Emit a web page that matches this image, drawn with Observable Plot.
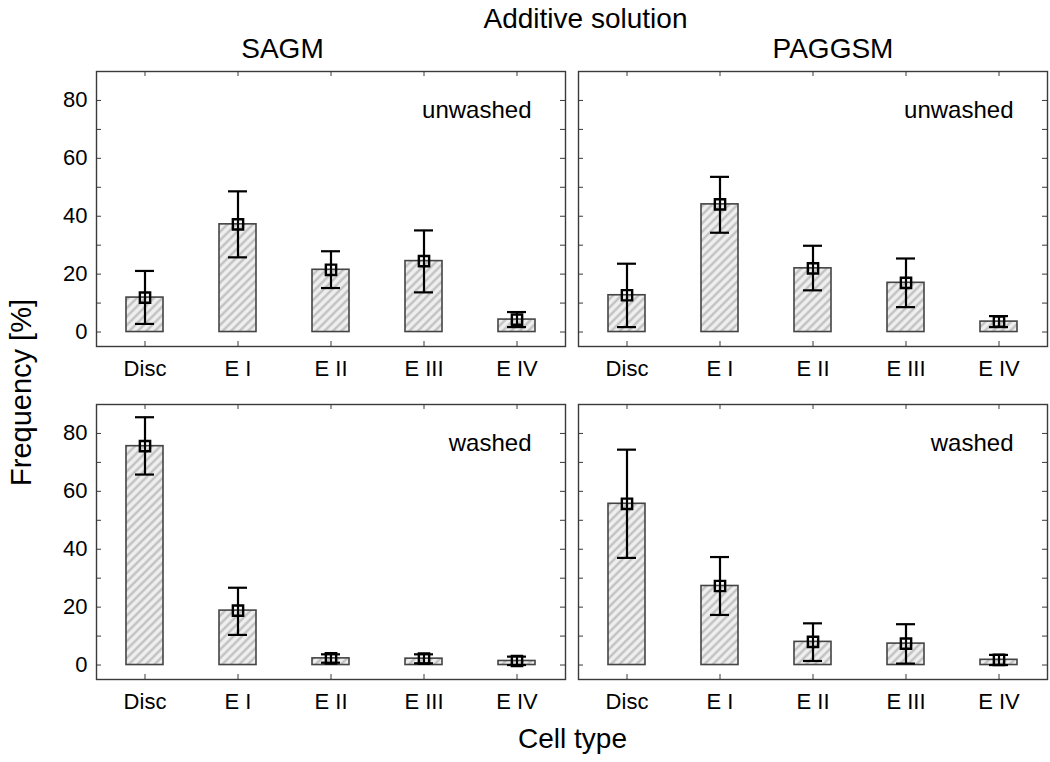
<!DOCTYPE html>
<html>
<head>
<meta charset="utf-8">
<script src="https://cdn.jsdelivr.net/npm/d3@7"></script>
<script src="https://cdn.jsdelivr.net/npm/@observablehq/plot@0.6"></script>
<style>
  html, body { margin: 0; padding: 0; background: #fff; }
  body { font-family: "Liberation Sans", Arial, sans-serif; color: #000; width: 1050px; }
  #chart svg { overflow: visible; }
</style>
</head>
<body>
<svg width="0" height="0" style="position:absolute">
  <defs>
    <pattern id="hatch" patternUnits="userSpaceOnUse" width="6" height="6" patternTransform="rotate(45)">
      <rect x="0" y="0" width="6" height="6" fill="#efefef"></rect>
      <line x1="1.5" y1="0" x2="1.5" y2="6" stroke="#bdbdbd" stroke-width="2.2"></line>
    </pattern>
  </defs>
</svg>
<div id="chart"></div>
<script>
// ---- data ----
const cellTypes = ["Disc", "E I", "E II", "E III", "E IV"];
const solutions = ["SAGM", "PAGGSM"];
const conditions = ["unwashed", "washed"];

const sagmUnwashedMean = [11.9, 37.2, 21.5, 24.5, 4.3];
const sagmUnwashedHigh = [21.1, 48.6, 27.9, 35.1, 6.9];
const sagmUnwashedLow  = [2.8, 25.8, 15.2, 13.7, 1.7];

const paggsmUnwashedMean = [12.7, 44.1, 22.0, 17.0, 3.6];
const paggsmUnwashedHigh = [23.6, 53.6, 29.8, 25.4, 5.5];
const paggsmUnwashedLow  = [1.7, 34.3, 14.4, 8.6, 1.7];

const sagmWashedMean = [75.6, 18.8, 2.3, 2.2, 1.4];
const sagmWashedHigh = [85.6, 26.7, 3.7, 3.7, 2.9];
const sagmWashedLow  = [65.8, 10.4, 0.8, 0.6, 0.0];

const paggsmWashedMean = [55.7, 27.3, 8.0, 7.4, 1.8];
const paggsmWashedHigh = [74.4, 37.3, 14.4, 14.1, 3.5];
const paggsmWashedLow  = [37.0, 17.3, 1.4, 0.5, 0.0];

const yTickLabels = [0, 20, 40, 60, 80];
const yMinorTicks = [0, 10, 20, 30, 40, 50, 60, 70, 80];
const title = "Additive solution";
const yLabel = "Frequency [%]";
const xLabel = "Cell type";

// ---- table ----
const groups = [
  [solutions[0], conditions[0], sagmUnwashedMean, sagmUnwashedLow, sagmUnwashedHigh],
  [solutions[1], conditions[0], paggsmUnwashedMean, paggsmUnwashedLow, paggsmUnwashedHigh],
  [solutions[0], conditions[1], sagmWashedMean, sagmWashedLow, sagmWashedHigh],
  [solutions[1], conditions[1], paggsmWashedMean, paggsmWashedLow, paggsmWashedHigh]
];
const data = [];
for (const [solution, condition, mean, low, high] of groups) {
  cellTypes.forEach((cell, i) => data.push({solution, condition, cell, mean: mean[i], low: low[i], high: high[i]}));
}

const facetW = 469, facetH = 275, tk = 5;
const axisColor = "#3a3a3a";

const chart = Plot.plot({
  width: 1050,
  height: 762,
  marginLeft: 96,
  marginRight: 3,
  marginTop: 71,
  marginBottom: 83,
  style: {fontFamily: "'Liberation Sans', Arial, sans-serif", fontSize: "22px", color: "#000", background: "#fff"},
  fx: {domain: solutions, paddingInner: 0.027, paddingOuter: 0, axis: null},
  fy: {domain: conditions, paddingInner: 0.175, paddingOuter: 0, axis: null},
  x: {domain: cellTypes, paddingInner: 0.6, paddingOuter: 0.3},
  y: {domain: [-5, 90]},
  marks: [
    Plot.barY(data, {fx: "solution", fy: "condition", x: "cell", y: "mean", fill: "url(#hatch)", stroke: "#444", strokeWidth: 1.6}),
    // inward ticks
    Plot.tickY(yMinorTicks, {y: d => d, insetRight: facetW - tk, stroke: axisColor, strokeWidth: 1}),
    Plot.tickY(yMinorTicks, {y: d => d, insetLeft: facetW - tk, stroke: axisColor, strokeWidth: 1}),
    Plot.tickX(cellTypes, {x: d => d, insetBottom: facetH - tk, stroke: axisColor, strokeWidth: 1}),
    Plot.tickX(cellTypes, {x: d => d, insetTop: facetH - tk, stroke: axisColor, strokeWidth: 1}),
    Plot.frame({stroke: axisColor, strokeWidth: 1.4}),
    // error bars
    Plot.ruleX(data, {fx: "solution", fy: "condition", x: "cell", y1: "low", y2: "high", stroke: "#000", strokeWidth: 2.2}),
    Plot.tickY(data, {fx: "solution", fy: "condition", x: "cell", y: "high", insetLeft: 9, insetRight: 9, stroke: "#000", strokeWidth: 2.2}),
    Plot.tickY(data, {fx: "solution", fy: "condition", x: "cell", y: "low", insetLeft: 9, insetRight: 9, stroke: "#000", strokeWidth: 2.2}),
    Plot.dot(data, {fx: "solution", fy: "condition", x: "cell", y: "mean", symbol: "square", r: 5.8, stroke: "#000", strokeWidth: 2.4, fill: "none"}),
    // axes
    Plot.axisX({tickSize: 0, tickPadding: 14, fontSize: 22, label: null, facetAnchor: null}),
    Plot.axisY(yTickLabels, {tickSize: 0, tickPadding: 9, fontSize: 22, label: null}),
    // panel labels
    Plot.text(conditions, {fy: d => d, text: d => d, frameAnchor: "top-right", dx: -34, dy: 39, textAnchor: "end", lineAnchor: "middle", fontSize: 24}),
    Plot.text([{solution: solutions[0], condition: conditions[0]}], {fx: "solution", fy: "condition", text: "solution", frameAnchor: "top", dx: -48.5, dy: -22, lineAnchor: "middle", fontSize: 28}),
    Plot.text([{solution: solutions[1], condition: conditions[0]}], {fx: "solution", fy: "condition", text: "solution", frameAnchor: "top", dx: 20, dy: -22, lineAnchor: "middle", fontSize: 28}),
    // title and axis titles
    Plot.text([{solution: solutions[0], condition: conditions[0], label: title}], {fx: "solution", fy: "condition", text: "label", frameAnchor: "top-right", dx: 20, dy: -52, textAnchor: "middle", lineAnchor: "middle", fontSize: 28}),
    Plot.text([{solution: solutions[0], condition: conditions[1], label: yLabel}], {fx: "solution", fy: "condition", text: "label", frameAnchor: "top-left", rotate: -90, dx: -75, dy: -12, textAnchor: "middle", lineAnchor: "middle", fontSize: 29}),
    Plot.text([{solution: solutions[0], condition: conditions[1], label: xLabel}], {fx: "solution", fy: "condition", text: "label", frameAnchor: "bottom-right", dx: 7, dy: 60, textAnchor: "middle", lineAnchor: "middle", fontSize: 28})
  ]
});
document.getElementById("chart").appendChild(chart);
</script>
</body>
</html>
